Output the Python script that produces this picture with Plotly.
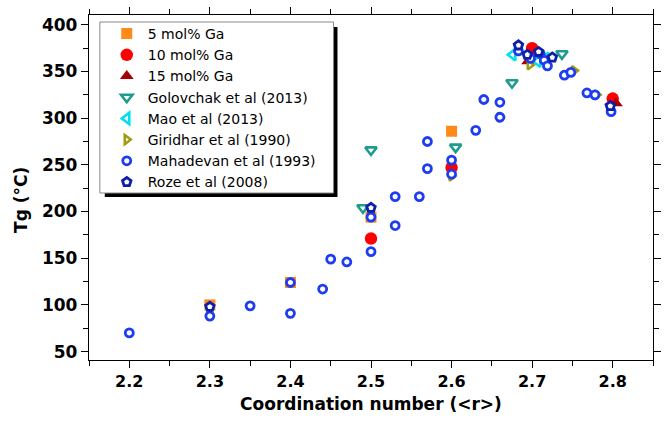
import plotly.graph_objects as go

# ---- data ----
ga5_x = [2.3, 2.4, 2.5, 2.6]
ga5_y = [100, 124, 194, 286]

ga10_x = [2.5, 2.6, 2.7, 2.8]
ga10_y = [171, 247, 375, 321]

ga15_x = [2.695, 2.804]
ga15_y = [361, 316]

golov_x = [2.49, 2.5, 2.605, 2.675, 2.737]
golov_y = [204, 266, 269, 338, 369]

mao_x = [2.676, 2.707, 2.717]
mao_y = [368, 361, 364]

giri_x = [2.6, 2.66, 2.697, 2.752, 2.78]
giri_y = [238, 301, 357, 351, 325]

maha_x = [2.2, 2.3, 2.35, 2.4, 2.4, 2.44, 2.45, 2.47, 2.5, 2.5, 2.53, 2.53,
          2.56, 2.57, 2.57, 2.6, 2.6, 2.63, 2.64, 2.66, 2.66, 2.683, 2.698,
          2.71, 2.715, 2.719, 2.74, 2.748, 2.768, 2.778, 2.798]
maha_y = [70, 88, 99, 124, 91, 117, 149, 146, 194, 157, 216, 185,
          216, 275, 246, 255, 240, 287, 320, 317, 301, 372, 364,
          369, 362, 356, 346, 349, 327, 325, 307]

roze_x = [2.3, 2.5, 2.683, 2.694, 2.708, 2.725, 2.797]
roze_y = [98, 204, 378, 368, 371, 365, 313]

names = ["5 mol% Ga", "10 mol% Ga", "15 mol% Ga", "Golovchak et al (2013)",
         "Mao et al (2013)", "Giridhar et al (1990)", "Mahadevan et al (1993)",
         "Roze et al (2008)"]

x_ticks = [2.2, 2.3, 2.4, 2.5, 2.6, 2.7, 2.8]
y_ticks = [50, 100, 150, 200, 250, 300, 350, 400]

FONT = "DejaVu Sans, Liberation Sans, Arial"

fig = go.Figure()

fig.add_trace(go.Scatter(x=ga5_x, y=ga5_y, mode="markers", name=names[0],
                         marker=dict(symbol="square", size=11, color="#FF8A17")))
fig.add_trace(go.Scatter(x=ga10_x, y=ga10_y, mode="markers", name=names[1],
                         marker=dict(symbol="circle", size=12.5, color="#FF0000")))
fig.add_trace(go.Scatter(x=ga15_x, y=ga15_y, mode="markers", name=names[2],
                         marker=dict(symbol="triangle-up", size=12, color="#A80000")))
fig.add_trace(go.Scatter(x=golov_x, y=golov_y, mode="markers", name=names[3],
                         marker=dict(symbol="triangle-down", size=10, color="white",
                                     line=dict(color="#1E9C8E", width=2.6))))
fig.add_trace(go.Scatter(x=mao_x, y=mao_y, mode="markers", name=names[4],
                         marker=dict(symbol="triangle-left", size=10, color="white",
                                     line=dict(color="#00E1F0", width=2.6))))
fig.add_trace(go.Scatter(x=giri_x, y=giri_y, mode="markers", name=names[5],
                         marker=dict(symbol="triangle-right", size=8, color="white",
                                     line=dict(color="#A09A10", width=2.5))))
fig.add_trace(go.Scatter(x=maha_x, y=maha_y, mode="markers", name=names[6],
                         marker=dict(symbol="circle", size=8, color="white",
                                     line=dict(color="#1E3CF0", width=2.8))))
fig.add_trace(go.Scatter(x=roze_x, y=roze_y, mode="markers", name=names[7],
                         marker=dict(symbol="pentagon", size=9, color="white",
                                     line=dict(color="#0F1FA8", width=2.8))))

axis_common = dict(
    showline=True, linecolor="black", linewidth=1.3, mirror="allticks",
    ticks="outside", ticklen=7, tickwidth=1.2, tickcolor="black",
    showgrid=False, zeroline=False,
)

fig.update_xaxes(range=[2.15, 2.85], tickvals=x_ticks,
                 ticktext=[f"{v:.1f}" for v in x_ticks],
                 tickfont=dict(family=FONT, size=16, color="black", weight="bold"),
                 minor=dict(dtick=0.05, tick0=2.15, ticks="outside", ticklen=5,
                            tickcolor="black", tickwidth=1.2),
                 title=dict(text="Coordination number (<r>)", standoff=7,
                            font=dict(family=FONT, size=17,
                                      color="black", weight="bold")),
                 **axis_common)
fig.update_yaxes(range=[41, 410.5], tickvals=y_ticks,
                 tickfont=dict(family=FONT, size=17, color="black", weight="bold"),
                 minor=dict(dtick=25, tick0=25, ticks="outside", ticklen=5,
                            tickcolor="black", tickwidth=1.2),
                 **axis_common)

# pixel geometry helpers (paper coords)
L, R, T, B = 89, 661, 15, 360
W, H = R - L, B - T
def px(x):
    return (x - L) / W
def py(y):
    return (B - y) / H

# y axis title as rotated text
fig.add_annotation(text="<b>Tg (°C)</b>", xref="paper", yref="paper",
                   x=px(20), y=py(200), xanchor="center", yanchor="middle",
                   textangle=-90, showarrow=False,
                   font=dict(family=FONT, size=17, color="black"))

# legend frame with drop shadow
fig.add_shape(type="rect", xref="paper", yref="paper",
              x0=px(105), x1=px(341), y0=py(197), y1=py(27),
              fillcolor="black", line=dict(width=0), layer="above")
fig.add_shape(type="rect", xref="paper", yref="paper",
              x0=px(100), x1=px(337), y0=py(193), y1=py(22),
              fillcolor="white", line=dict(color="#888888", width=1), layer="above")

fig.update_layout(
    width=665, height=427,
    margin=dict(l=L, r=665 - R, t=T, b=427 - B),
    paper_bgcolor="white", plot_bgcolor="white",
    showlegend=True,
    legend=dict(x=px(106), y=py(18), xanchor="left", yanchor="top",
                bgcolor="rgba(0,0,0,0)", borderwidth=0, itemwidth=32,
                font=dict(family=FONT, size=14, color="black"),
                tracegroupgap=0),
    font=dict(family=FONT),
)

fig.write_html("out.html")
